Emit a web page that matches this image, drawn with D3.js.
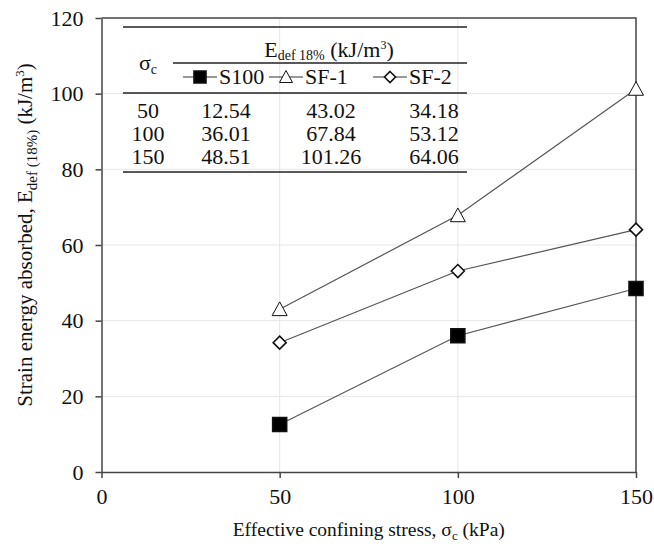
<!DOCTYPE html>
<html>
<head>
<meta charset="utf-8">
<script src="https://cdn.jsdelivr.net/npm/d3@7"></script>
<style>
  body { margin: 0; background: #fff; }
  svg text { font-family: "Times New Roman", "Liberation Serif", Tinos, "DejaVu Serif", serif !important; fill: #111; }
</style>
</head>
<body>
<svg id="chart" width="654" height="544"></svg>
<script>
// data
const stress = [50, 100, 150];
const s100 = [12.54, 36.01, 48.51];
const sf1 = [43.02, 67.84, 101.26];
const sf2 = [34.18, 53.12, 64.06];
const seriesNames = ["S100", "SF-1", "SF-2"];
const xTicks = [0, 50, 100, 150];
const yTicks = [0, 20, 40, 60, 80, 100, 120];

const svg = d3.select("#chart");

const margin = { left: 101.5, right: 18, top: 18, bottom: 72 };
const width = 654;
const height = 544;

var x = d3.scaleLinear().domain([0, 150]).range([margin.left, width - margin.right]);
var y = d3.scaleLinear().domain([0, 120]).range([height - margin.bottom, margin.top]);

const series = [
  { name: seriesNames[0], values: s100, shape: "square" },
  { name: seriesNames[1], values: sf1, shape: "triangle" },
  { name: seriesNames[2], values: sf2, shape: "diamond" },
];

// marker path generator
function markerPath(shape, s) {
  if (shape == "square") return d3.symbol().type(d3.symbolSquare).size(s * s)();
  if (shape == "triangle") {
    var h = s * 0.85;
    return "M0," + (-h / 2 - 1) + "L" + s / 2 + "," + (h / 2) + "L" + -s / 2 + "," + (h / 2) + "Z";
  }
  var r = s / 2;
  return "M0," + -r + "L" + r + ",0L0," + r + "L" + -r + ",0Z";
}
function markerFill(shape) {
  return shape == "square" ? "#000" : "#fff";
}
function markerSize(shape) {
  if (shape == "square") return 14;
  if (shape == "triangle") return 15;
  return 13;
}

// grid lines
svg.append("g")
  .selectAll("line")
  .data(yTicks.slice(1, -1))
  .enter()
  .append("line")
  .attr("x1", x(0)).attr("x2", x(150))
  .attr("y1", (d) => y(d)).attr("y2", (d) => y(d))
  .attr("stroke", "#e6e6e6").attr("stroke-width", 1);
svg.append("g")
  .selectAll("line")
  .data(xTicks.slice(1, -1))
  .enter()
  .append("line")
  .attr("y1", y(0)).attr("y2", y(120))
  .attr("x1", (d) => x(d)).attr("x2", (d) => x(d))
  .attr("stroke", "#e6e6e6").attr("stroke-width", 1);

// axes
var xAxis = svg.append("g")
  .attr("transform", "translate(0," + y(0) + ")")
  .call(d3.axisBottom(x).tickValues(xTicks).tickSize(6).tickSizeOuter(0).tickPadding(10));
var yAxis = svg.append("g")
  .attr("transform", "translate(" + x(0) + ",0)")
  .call(d3.axisLeft(y).tickValues(yTicks).tickSize(6).tickSizeOuter(0).tickPadding(12));
[xAxis, yAxis].forEach(function (a) {
  a.attr("font-family", null).attr("font-size", null);
  a.select(".domain").attr("stroke", "#444").attr("stroke-width", 1.5);
  a.selectAll(".tick line").attr("stroke", "#444").attr("stroke-width", 1.5);
  a.selectAll(".tick text")
    .style("font-size", "22px")
    .attr("fill", "#222");
});

// top and right border
svg.append("path")
  .attr("d", "M" + x(0) + "," + y(120) + "H" + x(150) + "V" + y(0))
  .attr("fill", "none").attr("stroke", "#444").attr("stroke-width", 1.5);

// series lines
var line = d3.line()
  .x((d, i) => x(stress[i]))
  .y((d) => y(d));
series.forEach(function (s) {
  svg.append("path")
    .attr("d", line(s.values))
    .attr("fill", "none")
    .attr("stroke", "#555")
    .attr("stroke-width", 1.2);
});
series.forEach(function (s) {
  svg.append("g")
    .selectAll("path")
    .data(s.values)
    .enter()
    .append("path")
    .attr("transform", (d, i) => "translate(" + x(stress[i]) + "," + y(d) + ")")
    .attr("d", markerPath(s.shape, markerSize(s.shape)))
    .attr("fill", markerFill(s.shape))
    .attr("stroke", "#111")
    .attr("stroke-width", s.shape == "triangle" ? 1 : 1.6);
});

// axis labels
var xl = svg.append("text")
  .attr("x", (x(0) + x(150)) / 2)
  .attr("y", 536)
  .attr("text-anchor", "middle")
  .style("font-size", "19.5px");
xl.append("tspan").text("Effective confining stress, σ");
xl.append("tspan").attr("dy", 4).style("font-size", "13px").text("c");
xl.append("tspan").attr("dy", -4).text(" (kPa)");

var yl = svg.append("text")
  .attr("transform", "translate(32," + 235 + ") rotate(-90)")
  .attr("text-anchor", "middle")
  .style("font-size", "21px");
yl.append("tspan").text("Strain energy absorbed, E");
yl.append("tspan").attr("dy", 5).style("font-size", "15px").text("def (18%)");
yl.append("tspan").attr("dy", -5).text(" (kJ/m");
yl.append("tspan").attr("dy", -8).style("font-size", "13px").text("3");
yl.append("tspan").attr("dy", 8).text(")");

/* TABLE */
const table = svg.append("g").attr("class", "table");
const tLeft = 123, tRight = 467;
const colX = [148, 226, 331, 434];
const rowY = [118, 141, 164];

function rule(x1, x2, yy) {
  table.append("line")
    .attr("x1", x1).attr("x2", x2)
    .attr("y1", yy).attr("y2", yy)
    .attr("stroke", "#222").attr("stroke-width", 1.4);
}
rule(tLeft, tRight, 27);
rule(173, tRight, 63);
rule(tLeft, tRight, 93);
rule(tLeft, tRight, 172);

// header
var sig = table.append("text")
  .attr("x", colX[0]).attr("y", 70)
  .attr("text-anchor", "middle")
  .style("font-size", "22px");
sig.append("tspan").text("σ");
sig.append("tspan").attr("dy", 4).style("font-size", "14px").text("c");

var eh = table.append("text")
  .attr("x", 329).attr("y", 57)
  .attr("text-anchor", "middle")
  .style("font-size", "22px");
eh.append("tspan").text("E");
eh.append("tspan").attr("dy", 3).style("font-size", "14px").text("def 18%");
eh.append("tspan").attr("dy", -3).text(" (kJ/m");
eh.append("tspan").attr("dy", -8).style("font-size", "12px").text("3");
eh.append("tspan").attr("dy", 8).text(")");

// legend row
const legX = [200, 286, 390];
series.forEach(function (s, i) {
  table.append("line")
    .attr("x1", legX[i] - 17).attr("x2", legX[i] + 17)
    .attr("y1", 77).attr("y2", 77)
    .attr("stroke", "#333").attr("stroke-width", 1.2);
  table.append("path")
    .attr("transform", "translate(" + legX[i] + ",77)")
    .attr("d", markerPath(s.shape, markerSize(s.shape) - 2))
    .attr("fill", markerFill(s.shape))
    .attr("stroke", "#111")
    .attr("stroke-width", s.shape == "triangle" ? 1 : 1.6);
  table.append("text")
    .attr("x", legX[i] + 19).attr("y", 84)
    .style("font-size", "22px")
    .text(s.name);
});

// value rows
stress.forEach(function (st, r) {
  table.append("text")
    .attr("x", colX[0]).attr("y", rowY[r])
    .attr("text-anchor", "middle")
    .style("font-size", "22px")
    .text(st);
  series.forEach(function (s, i) {
    table.append("text")
      .attr("x", colX[i + 1]).attr("y", rowY[r])
      .attr("text-anchor", "middle")
      .style("font-size", "22px")
      .text(s.values[r].toFixed(2));
  });
});
</script>
</body>
</html>
